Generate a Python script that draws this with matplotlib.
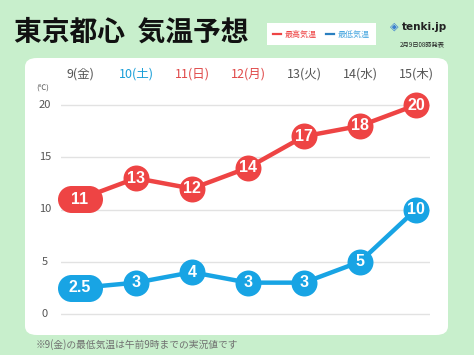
import numpy as np
import matplotlib
matplotlib.use("Agg")
import matplotlib.pyplot as plt
from matplotlib.patches import FancyBboxPatch
from matplotlib.path import Path
from matplotlib import transforms

plt.rcParams['font.family'] = ['Noto Sans CJK JP', 'DejaVu Sans']

days = ["9(金)", "10(土)", "11(日)", "12(月)", "13(火)", "14(水)", "15(木)"]
day_colors = ["#555555", "#1a9fd8", "#e04848", "#e04848", "#555555", "#555555", "#555555"]
high = [11, 13, 12, 14, 17, 18, 20]
low = [2.5, 3, 4, 3, 3, 5, 10]
high_labels = ["11", "13", "12", "14", "17", "18", "20"]
low_labels = ["2.5", "3", "4", "3", "3", "5", "10"]
yticks = [0, 5, 10, 15, 20]

RED = "#ee4444"
BLUE = "#18a4e4"
BG = "#c8efcc"

W, H = 474, 355
fig = plt.figure(figsize=(W / 100, H / 100), dpi=100)
fig.patch.set_facecolor(BG)

def fx(px):
    return px / W

def fy(py):
    return 1 - py / H

def stadium(ratio):
    # pill-shaped marker path, half height 1, half width ratio
    c = ratio - 1
    right = Path.arc(-90, 90)
    left = Path.arc(90, 270)
    verts = np.vstack([right.vertices + [c, 0], left.vertices + [-c, 0], [[c, -1]]])
    codes = np.concatenate([right.codes, left.codes, [Path.CLOSEPOLY]])
    codes[len(right.codes)] = Path.LINETO
    return Path(verts, codes)

# white panel
panel = FancyBboxPatch((fx(25), fy(335)), fx(448) - fx(25), fy(58) - fy(335),
                       boxstyle="round,pad=0,rounding_size=0.025",
                       transform=fig.transFigure, facecolor="white", edgecolor="none",
                       zorder=-5)
fig.patches.append(panel)

# title
fig.text(fx(14), fy(33), "東京都心  気温予想", fontsize=20, fontweight="bold",
         color="#111111", ha="left", va="center")

# legend box
leg = FancyBboxPatch((fx(267), fy(45)), fx(376) - fx(267), fy(23) - fy(45),
                     boxstyle="square,pad=0", transform=fig.transFigure,
                     facecolor="white", edgecolor="none", zorder=-5)
fig.patches.append(leg)
fig.lines.append(plt.Line2D([fx(273), fx(281)], [fy(34), fy(34)], transform=fig.transFigure,
                            color=RED, lw=1.6))
fig.text(fx(285), fy(34), "最高気温", fontsize=5.8, color=RED, va="center", ha="left")
fig.lines.append(plt.Line2D([fx(326), fx(334)], [fy(34), fy(34)], transform=fig.transFigure,
                            color="#2a7fc0", lw=1.6))
fig.text(fx(338), fy(34), "最低気温", fontsize=5.8, color="#4aa8e0", va="center", ha="left")

# logo
fig.text(fx(394), fy(27), "◈", fontsize=8, color="#3a7fd0", ha="center", va="center",
         family=["DejaVu Sans"])
fig.text(fx(402), fy(27), "tenki.jp", fontsize=7.5, fontweight="bold", color="#222222",
         ha="left", va="center", family=["DejaVu Sans"])
fig.text(fx(422), fy(44), "2月9日08時発表", fontsize=4.5, color="#222222",
         ha="center", va="center")

# footer
fig.text(fx(36), fy(345), "※9(金)の最低気温は午前9時までの実況値です", fontsize=7,
         color="#707070", ha="left", va="center")

# main axes: x index 0 -> px 80, step 56 px; y 0 -> px 314, 20 -> px 105
x = np.arange(len(days))
xpx0, xstep = 80.0, 56.0
ax_l, ax_r = 61.0, 430.0
y0px, ypu = 314.0, (314.0 - 105.0) / 20.0
ylo, yhi = -1.5, 21.5
ax = fig.add_axes([fx(ax_l), fy(y0px + (0 - ylo) * ypu),
                   (ax_r - ax_l) / W, (yhi - ylo) * ypu / H])
ax.set_xlim((ax_l - xpx0) / xstep, (ax_r - xpx0) / xstep)
ax.set_ylim(ylo, yhi)
ax.set_facecolor("none")
for s in ax.spines.values():
    s.set_visible(False)
ax.set_xticks([])
ax.set_yticks([])

ylab_tr = transforms.blended_transform_factory(fig.transFigure, ax.transData)
for v in yticks:
    ax.axhline(v, color="#e2e2e2", lw=1, zorder=1)
    ax.text(fx(45), v, str(v), transform=ylab_tr,
            ha="center", va="center", fontsize=8, color="#555555")
fig.text(fx(43), fy(89), "(℃)", ha="center", va="center", fontsize=5.5, color="#555555")

xlab_tr = transforms.blended_transform_factory(ax.transData, fig.transFigure)
for i, (d, c) in enumerate(zip(days, day_colors)):
    ax.text(i, fy(74), d, transform=xlab_tr,
            ha="center", va="center", fontsize=9, color=c, clip_on=False)

pill = stadium(45 / 27)


def draw_series(vals, labels, color):
    ax.plot(x, vals, color=color, lw=3.2, zorder=3, solid_capstyle="round")
    ax.plot(x[1:], vals[1:], "o", ms=18.7, color=color, mec="none", zorder=4, clip_on=False)
    ax.plot(x[:1], vals[:1], marker=pill, ms=32.4, color=color, mec="none", ls="none",
            zorder=4, clip_on=False)
    for i, (v, lab) in enumerate(zip(vals, labels)):
        ax.text(x[i], v, lab, ha="center", va="center", fontsize=11.5,
                fontweight="bold", color="white", zorder=5,
                family=["Liberation Sans", "DejaVu Sans"])


draw_series(high, high_labels, RED)
draw_series(low, low_labels, BLUE)

fig.savefig("out.png", dpi=100, facecolor=BG)
